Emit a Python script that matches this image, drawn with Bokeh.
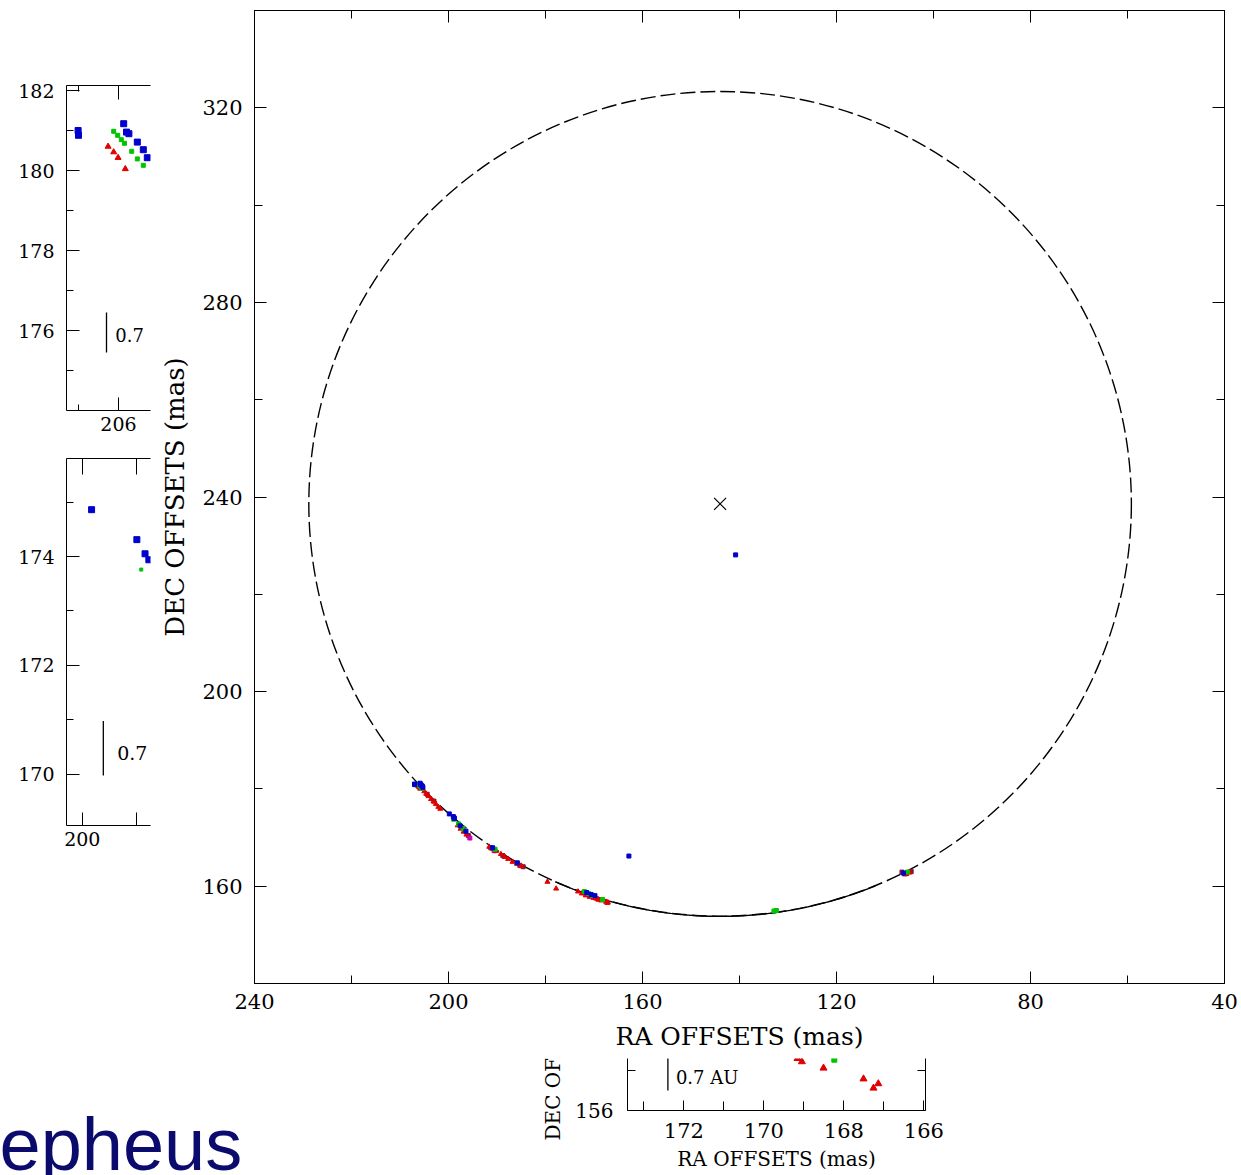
import numpy as np
from math import pi
from bokeh.plotting import figure
from bokeh.layouts import row, column
from bokeh.models import Range1d, LinearAxis, FixedTicker
from bokeh.core.properties import value
from bokeh.embed import file_html
from bokeh.resources import INLINE

SERIF = "DejaVu Serif"

# ---------------- data (RA / DEC offsets, mas) ----------------
blue_ra = [207.01, 207.00, 205.87, 205.80, 205.74, 205.53, 205.38, 205.28,
           199.83, 199.00, 198.85, 198.78, 197.6, 196.4, 190.9, 185.8,
           171.5, 170.6, 169.8, 162.8, 140.8, 106.2]
blue_dec = [181.00, 180.88, 181.17, 180.96, 180.92, 180.71, 180.52, 180.32,
            174.86, 174.31, 174.05, 173.94, 172.4, 171.3, 167.9, 164.8,
            158.7, 158.3, 158.05, 166.2, 228.1, 162.7]

green_ra = [206.12, 206.02, 205.93, 205.85, 205.67, 205.53, 205.38,
            198.92, 197.9, 197.0, 190.4,
            172.0, 171.1, 170.3, 168.24, 132.9, 132.4, 105.4]
green_dec = [180.98, 180.88, 180.77, 180.68, 180.48, 180.29, 180.13,
             173.76, 172.8, 171.9, 167.6,
             158.9, 158.5, 158.1, 157.27, 154.9, 155.0, 162.9]

red_ra = [206.26, 206.12, 206.01, 205.83,
          205.0, 204.6, 204.1, 203.6, 203.1, 202.6, 202.1, 201.7,
          198.1, 197.5, 196.9, 196.3,
          191.6, 190.9, 190.2, 189.2, 188.4, 187.7, 186.8, 185.9, 185.0,
          179.6, 177.8,
          173.3, 172.5, 171.7, 170.9, 170.1, 169.6, 169.16, 169.05,
          168.51, 167.51, 167.26, 167.14,
          105.9, 104.9]
red_dec = [180.60, 180.46, 180.32, 180.04,
           179.5, 179.0, 178.5, 177.9, 177.4, 176.9, 176.3, 175.9,
           172.5, 171.8, 171.2, 170.6,
           168.1, 167.7, 167.2, 166.6, 166.0, 165.6, 165.0, 164.6, 164.1,
           160.9, 159.5,
           158.9, 158.5, 158.1, 157.8, 157.6, 157.45, 157.3, 157.22,
           157.06, 156.79, 156.56, 156.67,
           162.4, 162.8]

maroon_ra = [204.4, 203.0, 195.9, 191.3, 188.8, 185.3, 184.6, 106.5, 105.5, 104.6]
maroon_dec = [178.9, 177.5, 170.4, 167.9, 166.3, 164.3, 164.0, 162.9, 162.6, 163.0]

magenta_ra = [195.6, 190.6, 171.9]
magenta_dec = [169.9, 167.3, 158.6]

# ring fit and centre
ring_ra, ring_dec, ring_r = 144.0, 238.6, 84.8
solid_ra_from, solid_ra_to = 112.0, 178.0

# scale bar (1 mas = 0.7 AU)
bar_len = 1.0

main_xticks = [240, 200, 160, 120, 80, 40]
main_xminor = [220, 180, 140, 100, 60]
main_yticks = [160, 200, 240, 280, 320]
main_yminor = [140, 180, 220, 260, 300, 340]

COL = {"blue": "#0000cc", "green": "#00c400", "red": "#e00000",
       "maroon": "#86163e", "magenta": "#c800c0"}


def axis(fig, place, ticks, minor, labels, font="21px", tin=12, mtin=8,
         standoff=12, label=None, label_size="26px", label_standoff=12):
    ax = LinearAxis()
    ax.ticker = FixedTicker(ticks=ticks, minor_ticks=minor)
    ax.major_tick_in = tin
    ax.major_tick_out = 0
    ax.minor_tick_in = mtin
    ax.minor_tick_out = 0
    ax.axis_line_color = "black"
    ax.major_tick_line_color = "black"
    ax.minor_tick_line_color = "black"
    ax.major_label_text_font = SERIF
    ax.major_label_text_color = "black"
    if labels:
        ax.major_label_text_font_size = font
        ax.major_label_standoff = standoff
    else:
        ax.major_label_text_font_size = "0px"
        ax.major_label_standoff = 0
    if label:
        ax.axis_label = label
        ax.axis_label_text_font = SERIF
        ax.axis_label_text_font_size = label_size
        ax.axis_label_text_font_style = "normal"
        ax.axis_label_text_color = "black"
        ax.axis_label_standoff = label_standoff
    fig.add_layout(ax, place)
    return ax


def make_fig(w, h, xr, yr, bl, br, bt, bb):
    f = figure(width=w, height=h, x_range=Range1d(*xr), y_range=Range1d(*yr),
               x_axis_location=None, y_axis_location=None,
               toolbar_location=None, output_backend="svg",
               min_border_left=bl, min_border_right=br,
               min_border_top=bt, min_border_bottom=bb)
    f.grid.visible = False
    f.background_fill_color = "white"
    f.border_fill_color = "white"
    return f


def draw_points(f, sq=4, tri=5, big=4):
    f.scatter(maroon_ra, maroon_dec, marker="square", size=sq, color=COL["maroon"])
    f.scatter(magenta_ra, magenta_dec, marker="square", size=sq, color=COL["magenta"])
    f.scatter(red_ra, red_dec, marker="triangle", size=tri, color=COL["red"])
    f.scatter(green_ra, green_dec, marker="square", size=sq, color=COL["green"])
    f.scatter(blue_ra, blue_dec, marker="square", size=big, color=COL["blue"])


# ---------------- main panel ----------------
main = make_fig(1084, 1058, (240, 40), (140, 340), 97, 17, 10, 75)
main.outline_line_color = "black"
main.outline_line_width = 1
axis(main, "below", main_xticks, main_xminor, True, standoff=10,
     label="RA OFFSETS (mas)", label_size="25px", label_standoff=10)
axis(main, "left", main_yticks, main_yminor, True, standoff=12,
     label="DEC OFFSETS (mas)", label_size="26px", label_standoff=9)
axis(main, "above", main_xticks, main_xminor, False)
axis(main, "right", main_yticks, main_yminor, False)

main.ellipse(x=[ring_ra], y=[ring_dec], width=2 * ring_r, height=2 * ring_r,
             fill_color=None, line_color="black", line_width=1.4, line_dash="15 5")
arc_ra = np.linspace(solid_ra_from, solid_ra_to, 200)
arc_dec = ring_dec - np.sqrt(ring_r ** 2 - (arc_ra - ring_ra) ** 2)
main.line(arc_ra, arc_dec, line_color="black", line_width=1.4)
main.scatter([ring_ra], [ring_dec], marker="x", size=17, line_color="black", line_width=1.2)
draw_points(main, sq=4, tri=5, big=4)

# ---------------- inset 1 (top left) ----------------
in1 = make_fig(157, 445, (207.3, 205.2), (174.0, 182.125), 66, 7, 85, 35)
in1.outline_line_color = None
axis(in1, "left", [176, 178, 180, 182], [175, 177, 179, 181], True, font="19px",
     tin=13, mtin=7, standoff=12)
axis(in1, "below", [206], [207], True, font="19px", tin=13, mtin=6, standoff=6)
axis(in1, "above", [206], [207], False, tin=14, mtin=6)
draw_points(in1, sq=4, tri=6, big=6)
in1.segment(x0=[206.3], y0=[175.45], x1=[206.3], y1=[175.45 + bar_len], line_color="black", line_width=1.3)
in1.text(x=[206.08], y=[175.88], text=["0.7"], text_font=value(SERIF), text_font_size="18px",
         text_baseline="middle", text_align="left", text_color="black")

# ---------------- inset 2 (middle left) ----------------
in2 = make_fig(157, 613, (200.29, 198.75), (169.06, 175.8), 66, 7, 13, 233)
in2.outline_line_color = None
axis(in2, "left", [170, 172, 174], [171, 173, 175], True, font="19px",
     tin=13, mtin=7, standoff=12)
axis(in2, "below", [200], [199], True, font="19px", tin=13, mtin=13, standoff=6)
axis(in2, "above", [200], [199], False, tin=16, mtin=16)
draw_points(in2, sq=3, tri=5, big=6)
in2.segment(x0=[199.615], y0=[169.98], x1=[199.615], y1=[169.98 + bar_len], line_color="black", line_width=1.3)
in2.text(x=[199.36], y=[170.385], text=["0.7"], text_font=value(SERIF), text_font_size="19px",
         text_baseline="middle", text_align="left", text_color="black")

# ---------------- inset 3 (bottom) ----------------
in3 = make_fig(669, 117, (173.41, 165.96), (156.0, 157.3), 55, 316, 0, 65)
in3.outline_line_color = None
axis(in3, "left", [156], [157], True, font="20px", tin=8, mtin=8, standoff=14)
axis(in3, "right", [156], [157], False, tin=8, mtin=8)
axis(in3, "below", [172, 170, 168, 166], [173, 171, 169, 167], True, font="21px",
     tin=10, mtin=9, standoff=12, label="RA OFFSETS (mas)", label_size="20px", label_standoff=6)
draw_points(in3, sq=5, tri=7, big=5)
in3.segment(x0=[172.4], y0=[156.5], x1=[172.4], y1=[156.5 + bar_len], line_color="black", line_width=1.3)
in3.text(x=[172.2], y=[156.83], text=["0.7 AU"], text_font=value(SERIF), text_font_size="18px",
         text_baseline="middle", text_align="left", text_color="black")

# rotated y label of the bottom inset (mostly hidden under the main panel)
lab = make_fig(42, 117, (0, 42), (0, 117), 0, 0, 0, 0)
lab.outline_line_color = None
lab.min_border = 0
lab.text(x=[22], y=[35], text=["DEC OFFSETS (mas)"], angle=pi / 2,
         text_font=value(SERIF), text_font_size="20px", text_align="left",
         text_baseline="middle", text_color="black")

# ---------------- slide caption fragment ----------------
cap = make_fig(530, 117, (0, 530), (0, 117), 0, 0, 0, 0)
cap.outline_line_color = None
cap.min_border = 0
cap.text(x=[-1], y=[31], text=["epheus"], text_font=value("Liberation Sans"),
         text_font_size="74px", text_color="#0b0b6e", text_baseline="alphabetic",
         text_align="left")

layout = column(row(column(in1, in2), main),
                row(column(cap), column(lab), column(in3)))

open("out.html", "w").write(file_html(layout, INLINE))
